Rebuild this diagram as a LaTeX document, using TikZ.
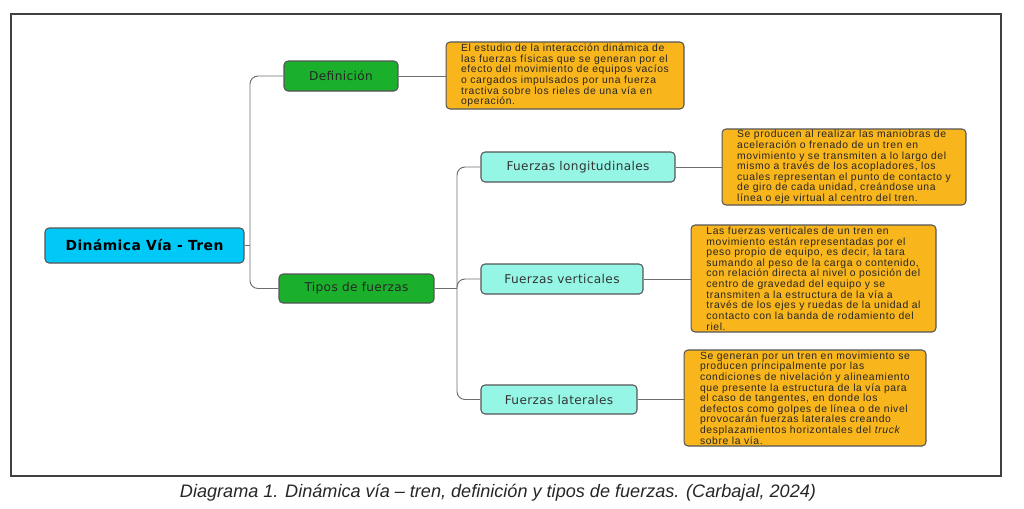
\documentclass[tikz,border=0pt]{standalone}
\usepackage{fontspec}
\setmainfont{Liberation Sans}
\newfontfamily\lblfont[LetterSpace=3]{DejaVu Sans}
\newfontfamily\notefont[LetterSpace=6]{Liberation Sans}
\usepackage{tikz}
\usetikzlibrary{positioning}

\definecolor{rootcol}{HTML}{00C8F7}
\definecolor{greencol}{HTML}{1BB02C}
\definecolor{aquacol}{HTML}{95F6E6}
\definecolor{orangecol}{HTML}{F8B51C}
\definecolor{edgecol}{HTML}{555555}
\definecolor{linecol}{HTML}{6E6E6E}

\begin{document}
\begin{tikzpicture}[x=0.02cm,y=-0.02cm,
  box/.style={rectangle,rounded corners=0.08cm,draw=edgecol,line width=0.6pt,inner sep=0pt},
  rootbox/.style={box,fill=rootcol,font=\lblfont\bfseries\fontsize{7.9pt}{9pt}\selectfont},
  greenbox/.style={box,fill=greencol,text=black!85,font=\lblfont\fontsize{6.9pt}{7pt}\selectfont},
  aquabox/.style={box,fill=aquacol,text=black!80,font=\lblfont\fontsize{6.9pt}{7pt}\selectfont},
  notebox/.style={box,fill=orangecol,align=left,text=black!85,font=\notefont\fontsize{5.9pt}{6.05pt}\selectfont},
  conn/.style={draw=linecol,line width=0.55pt,rounded corners=0.16cm}]
      \useasboundingbox (0,0) rectangle (1024,508);
      \draw[line width=0.04cm,black!75] (11,14) rectangle (1001,476);
      % main nodes
      \node at (144.5,245.5) [rootbox,minimum width=3.98cm,minimum height=0.7cm] (root) {Dinámica Vía - Tren};
      \node at (341,76) [greenbox,minimum width=2.28cm,minimum height=0.6cm] (def) {Definición};
      \node at (356.5,288.5) [greenbox,minimum width=3.1cm,minimum height=0.58cm] (tipos) {Tipos de fuerzas};
      \node at (578,167) [aquabox,minimum width=3.88cm,minimum height=0.6cm] (flong) {Fuerzas longitudinales};
      \node at (562,279) [aquabox,minimum width=3.24cm,minimum height=0.6cm] (fvert) {Fuerzas verticales};
      \node at (559,399.5) [aquabox,minimum width=3.12cm,minimum height=0.58cm] (flat) {Fuerzas laterales};
      % notes
      \node at (565,75.5) [notebox,minimum width=4.76cm,minimum height=1.34cm] (defTxt) {El estudio de la interacción dinámica de\\las fuerzas físicas que se generan por el\\efecto del movimiento de equipos vacíos\\o cargados impulsados por una fuerza\\tractiva sobre los rieles de una vía en\\operación.};
      \node at (844,167) [notebox,minimum width=4.88cm,minimum height=1.52cm] (longTxt) {Se producen al realizar las maniobras de\\aceleración o frenado de un tren en\\movimiento y se transmiten a lo largo del\\mismo a través de los acopladores, los\\cuales representan el punto de contacto y\\de giro de cada unidad, creándose una\\línea o eje virtual al centro del tren.};
      \node at (813.5,278.5) [notebox,minimum width=4.9cm,minimum height=2.14cm] (vertTxt) {Las fuerzas verticales de un tren en\\movimiento están representadas por el\\peso propio de equipo, es decir, la tara\\sumando al peso de la carga o contenido,\\con relación directa al nivel o posición del\\centro de gravedad del equipo y se\\transmiten a la estructura de la vía a\\través de los ejes y ruedas de la unidad al\\contacto con la banda de rodamiento del\\riel.};
      \node at (805,398) [notebox,minimum width=4.84cm,minimum height=1.92cm] (latTxt) {Se generan por un tren en movimiento se\\producen principalmente por las\\condiciones de nivelación y alineamiento\\que presente la estructura de la vía para\\el caso de tangentes, en donde los\\defectos como golpes de línea o de nivel\\provocarán fuerzas laterales creando\\desplazamientos horizontales del \textit{truck}\\sobre la vía.};
      % connectors
      \coordinate (rb) at (250,245.5);
      \coordinate (tb) at (457,288.5);
      \draw[conn] (root.east) -- (rb);
      \draw[conn] (rb) |- (def.west);
      \draw[conn] (rb) |- (tipos.west);
      \draw[conn] (tipos.east) -- (tb);
      \draw[conn] (tb) |- (flong.west);
      \draw[conn] (tb) |- (fvert.west);
      \draw[conn] (tb) |- (flat.west);
      \draw[conn] (def.east) -- (defTxt.west |- def.east);
      \draw[conn] (flong.east) -- (longTxt.west |- flong.east);
      \draw[conn] (fvert.east) -- (vertTxt.west |- fvert.east);
      \draw[conn] (flat.east) -- (latTxt.west |- flat.east);
      \node at (498,493) [font=\itshape\fontsize{10.3pt}{11pt}\selectfont,text=black!85] (cap) {Diagrama 1. Dinámica vía – tren, definición y tipos de fuerzas. (Carbajal, 2024)};
\end{tikzpicture}
\end{document}
